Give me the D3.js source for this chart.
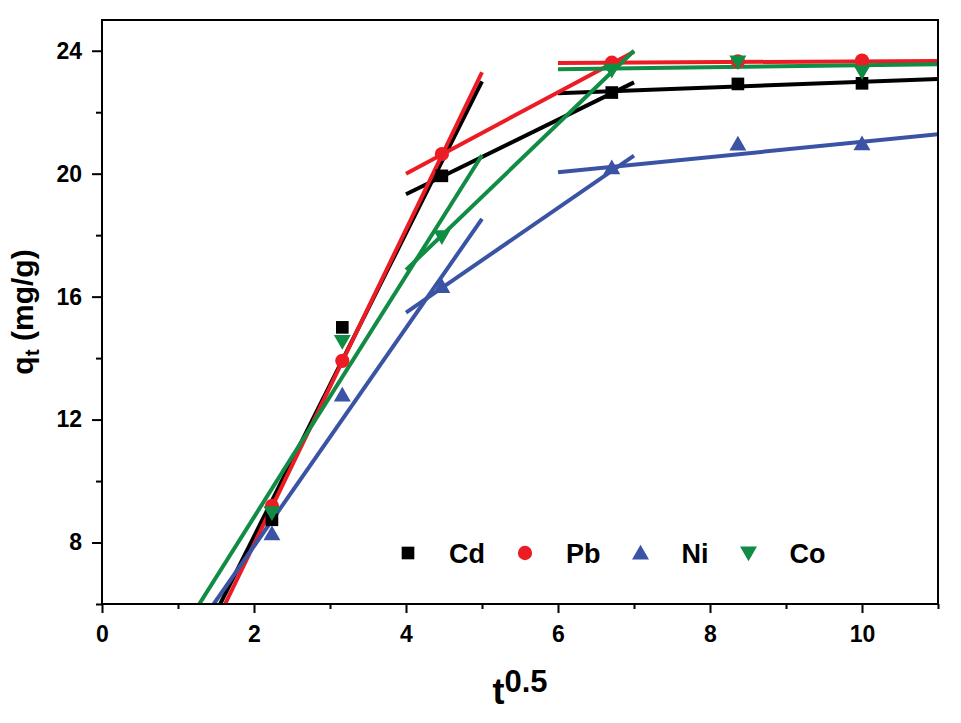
<!DOCTYPE html>
<html>
<head>
<meta charset="utf-8">
<script src="https://cdn.jsdelivr.net/npm/d3@7"></script>
<style>
  html, body { margin: 0; padding: 0; background: #fff; }
  svg { display: block; font-family: "Liberation Sans", Arial, sans-serif; font-weight: bold; }
</style>
</head>
<body>
<svg id="chart" width="961" height="723"></svg>
<script>
// ---------- data ----------
const tValues   = [2.236, 3.162, 4.472, 6.708, 8.367, 10];
const cdValues  = [8.74, 15.0, 19.93, 22.64, 22.92, 22.94];
const pbValues  = [9.19, 13.91, 20.64, 23.61, 23.65, 23.68];
const niValues  = [8.28, 12.8, 16.33, 20.19, 20.96, 20.97];
const coValues  = [8.97, 14.54, 17.95, 23.37, 23.64, 23.32];

// fitted segments: [t1, q1, t2, q2]
const cdFits = [[1.555, 6, 5, 23.0], [4, 19.33, 7, 22.97], [6, 22.62, 11, 23.08]];
const pbFits = [[1.62, 6, 5, 23.3], [4, 20.0, 7, 23.97], [6, 23.6, 11, 23.67]];
const niFits = [[1.47, 6, 5, 18.53], [4, 15.48, 7, 20.59], [6, 20.05, 11, 21.28]];
const coFits = [[1.28, 6, 5, 20.6], [4, 16.87, 7, 24.0], [6, 23.4, 11, 23.56]];

const seriesNames = ["Cd", "Pb", "Ni", "Co"];
const xMajorTicks = [0, 2, 4, 6, 8, 10];
const xMinorTicks = [1, 3, 5, 7, 9, 11];
const yMajorTicks = [8, 12, 16, 20, 24];
const yMinorTicks = [6, 10, 14, 18, 22];

// ---------- styles ----------
const colors  = { Cd: "#000000", Pb: "#ec1c24", Ni: "#3a53a4", Co: "#108c44" };
const symbols = { Cd: "square", Pb: "circle", Ni: "up", Co: "down" };

const series = [
  { name: "Cd", values: cdValues, fits: cdFits },
  { name: "Pb", values: pbValues, fits: pbFits },
  { name: "Ni", values: niValues, fits: niFits },
  { name: "Co", values: coValues, fits: coFits }
];

const L = 102, R = 938, T = 20, B = 604;
const svg = d3.select("#chart");

const x = d3.scaleLinear().domain([0, 11]).range([L, R]);
const y = d3.scaleLinear().domain([6, 25]).range([B, T]);

function symbolPath(kind) {
  if (kind === "square") return d3.symbol(d3.symbolSquare, 160)();
  if (kind === "circle") return d3.symbol(d3.symbolCircle, 160)();
  return d3.symbol(d3.symbolTriangle, 125)();
}
function symbolTransform(kind, cx, cy) {
  if (kind === "up") return `translate(${cx},${cy + 1.5})`;
  if (kind === "down") return `translate(${cx},${cy - 1.5}) rotate(180)`;
  return `translate(${cx},${cy})`;
}

// ---------- axes ----------
const axisFont = 23;
const gy = svg.append("g").attr("transform", `translate(${L},0)`)
  .call(d3.axisLeft(y).tickValues(yMajorTicks).tickSize(10).tickPadding(10).tickFormat(d3.format("d")));
const gyMinor = svg.append("g").attr("transform", `translate(${L},0)`)
  .call(d3.axisLeft(y).tickValues(yMinorTicks).tickSize(6).tickFormat(""));
const gx = svg.append("g").attr("transform", `translate(0,${B})`)
  .call(d3.axisBottom(x).tickValues(xMajorTicks).tickSize(9).tickPadding(13).tickFormat(d3.format("d")));
const gxMinor = svg.append("g").attr("transform", `translate(0,${B})`)
  .call(d3.axisBottom(x).tickValues(xMinorTicks).tickSize(5).tickFormat(""));

[gy, gyMinor, gx, gxMinor].forEach(g => {
  g.select(".domain").remove();
  g.selectAll("line").attr("stroke", "#000").attr("stroke-width", 2);
  g.selectAll("text").attr("font-size", axisFont).attr("font-weight", "bold")
    .attr("font-family", "Liberation Sans, Arial, sans-serif").attr("fill", "#000");
});

// ---------- clip ----------
svg.append("defs").append("clipPath").attr("id", "plotclip")
  .append("rect").attr("x", L).attr("y", T).attr("width", R - L).attr("height", B - T);

const plot = svg.append("g").attr("clip-path", "url(#plotclip)");

// fit lines
series.forEach(s => {
  plot.append("g").selectAll("line").data(s.fits).join("line")
    .attr("x1", d => x(d[0])).attr("y1", d => y(d[1]))
    .attr("x2", d => x(d[2])).attr("y2", d => y(d[3]))
    .attr("stroke", colors[s.name]).attr("stroke-width", 4);
});

// markers
series.forEach(s => {
  const pts = tValues.map((t, i) => [t, s.values[i]]);
  svg.append("g").selectAll("path").data(pts).join("path")
    .attr("d", symbolPath(symbols[s.name]))
    .attr("transform", d => symbolTransform(symbols[s.name], x(d[0]), y(d[1])))
    .attr("fill", colors[s.name]);
});

// frame
svg.append("rect").attr("x", L).attr("y", T).attr("width", R - L).attr("height", B - T)
  .attr("fill", "none").attr("stroke", "#000").attr("stroke-width", 2);

// ---------- legend ----------
const legendY = 553;
let lx = 408;
const legend = svg.append("g");
seriesNames.forEach(name => {
  const kind = symbols[name];
  legend.append("path").attr("d", symbolPath(kind))
    .attr("transform", symbolTransform(kind, lx, legendY)).attr("fill", colors[name]);
  const txt = legend.append("text").attr("x", lx + 41).attr("y", legendY + 10)
    .attr("font-size", 27).attr("font-weight", "bold").attr("fill", "#000").text(name);
  const w = txt.node().getComputedTextLength();
  lx = lx + 41 + w + 40;
});

// ---------- titles ----------
const xt = svg.append("text").attr("x", (L + R) / 2).attr("y", 704)
  .attr("text-anchor", "middle").attr("fill", "#000");
xt.append("tspan").attr("font-size", 36).text("t");
xt.append("tspan").attr("font-size", 31).attr("dy", -12).text("0.5");

const yt = svg.append("text").attr("transform", `translate(33,${(T + B) / 2}) rotate(-90)`)
  .attr("text-anchor", "middle").attr("fill", "#000");
yt.append("tspan").attr("font-size", 30).text("q");
yt.append("tspan").attr("font-size", 21).attr("dy", 6).text("t");
yt.append("tspan").attr("font-size", 30).attr("dy", -6).text(" (mg/g)");
</script>
</body>
</html>
